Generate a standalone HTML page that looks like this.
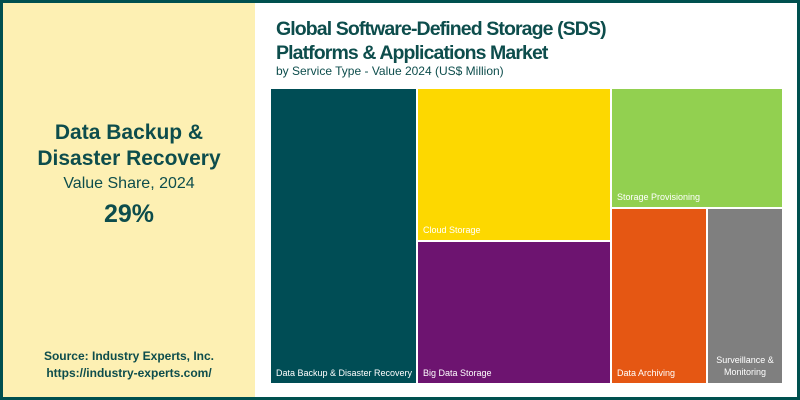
<!DOCTYPE html>
<html><head><style>
body{margin:0;width:800px;height:400px;overflow:hidden;font-family:"Liberation Sans",sans-serif;}
.frame{position:absolute;left:0;top:0;width:794px;height:394px;border:3px solid #00504f;background:#fff;}
.left{position:absolute;left:0;top:0;width:252px;height:394px;background:#fdf0b3;color:#0d4d4c;text-align:center;}
.r{position:absolute;color:#fff;font-size:9px;}
.r span{position:absolute;left:5px;bottom:5px;white-space:nowrap;}
</style></head><body>
<div class="frame">
<div class="left">
<div style="position:absolute;top:117px;width:100%;font-size:21px;font-weight:bold;line-height:26px;">Data Backup &amp;<br>Disaster Recovery</div>
<div style="position:absolute;top:172px;width:100%;font-size:16px;">Value Share, 2024</div>
<div style="position:absolute;top:197px;width:100%;font-size:25px;font-weight:bold;">29%</div>
<div style="position:absolute;top:345px;width:100%;font-size:12px;font-weight:bold;line-height:17px;">Source: Industry Experts, Inc.<br>https://industry-experts.com/</div>
</div>
<div style="position:absolute;left:273px;top:14px;color:#0d4d4c;font-size:19.5px;font-weight:bold;line-height:24px;letter-spacing:-0.9px;">Global Software-Defined Storage (SDS)<br>Platforms &amp; Applications Market</div>
<div style="position:absolute;left:273px;top:61px;color:#0d4d4c;font-size:12px;">by Service Type - Value 2024 (US$ Million)</div>
<div class="r" style="left:268px;top:86px;width:145px;height:294px;background:#004d55"><span>Data Backup &amp; Disaster Recovery</span></div>
<div class="r" style="left:415px;top:86px;width:192px;height:151px;background:#fdd800"><span>Cloud Storage</span></div>
<div class="r" style="left:415px;top:239px;width:192px;height:141px;background:#6d1470"><span>Big Data Storage</span></div>
<div class="r" style="left:609px;top:86px;width:170px;height:118px;background:#92d050"><span>Storage Provisioning</span></div>
<div class="r" style="left:609px;top:206px;width:94px;height:174px;background:#e55713"><span>Data Archiving</span></div>
<div class="r" style="left:705px;top:206px;width:74px;height:174px;background:#7f7f7f"><span style="left:0;width:74px;text-align:center;line-height:12px;white-space:normal">Surveillance &amp; Monitoring</span></div>
</div>
</body></html>
